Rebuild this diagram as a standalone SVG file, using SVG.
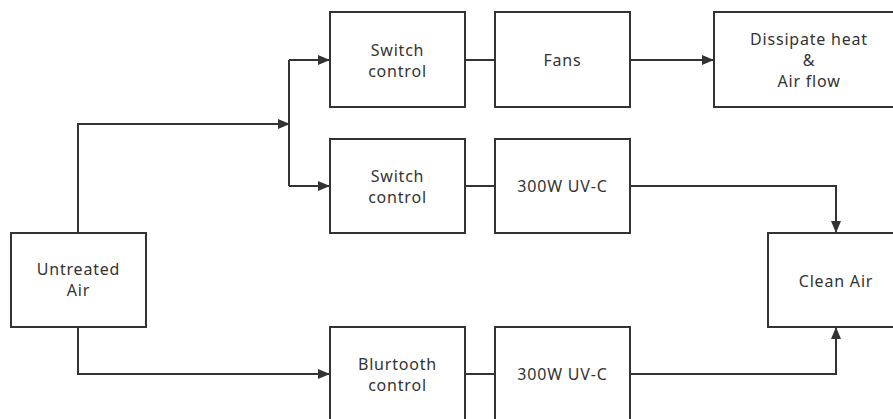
<svg xmlns="http://www.w3.org/2000/svg" width="893" height="419" viewBox="0 0 893 419">
<style>
.box{fill:#fff;stroke:#333;stroke-width:2}
.t{font-family:"Noto Sans","Open Sans",sans-serif;font-size:16px;letter-spacing:0.8px;fill:#333;text-anchor:middle;dominant-baseline:central}
.c{fill:none;stroke:#333;stroke-width:2}
</style>
<defs>
<marker id="ah" markerWidth="12" markerHeight="10" refX="11" refY="5" orient="auto" markerUnits="userSpaceOnUse">
<path d="M0,0 L12,5 L0,10 Z" fill="#333"/>
</marker>
</defs>
<rect width="893" height="419" fill="#fff"/>
<g id="connectors">
<path class="c" d="M78,233 V124 H289" marker-end="url(#ah)"/>
<path class="c" d="M289,60 V186"/>
<path class="c" d="M289,60 H329" marker-end="url(#ah)"/>
<path class="c" d="M289,186 H329" marker-end="url(#ah)"/>
<path class="c" d="M465,60 H495"/>
<path class="c" d="M630,60 H713" marker-end="url(#ah)"/>
<path class="c" d="M465,186 H495"/>
<path class="c" d="M630,186 H836 V232" marker-end="url(#ah)"/>
<path class="c" d="M78,327 V374 H329" marker-end="url(#ah)"/>
<path class="c" d="M465,374 H495"/>
<path class="c" d="M630,374 H836 V328" marker-end="url(#ah)"/>
</g>
<g id="untreated"><rect class="box" x="11" y="233" width="135" height="94"/><text class="t" x="78.5" y="269">Untreated</text><text class="t" x="78.5" y="290">Air</text></g>
<g id="switch1"><rect class="box" x="330" y="12" width="135" height="95"/><text class="t" x="397.5" y="50">Switch</text><text class="t" x="397.5" y="71">control</text></g>
<g id="fans"><rect class="box" x="495" y="12" width="135" height="95"/><text class="t" x="562.5" y="60">Fans</text></g>
<g id="dissipate"><rect class="box" x="714" y="12" width="190" height="95"/><text class="t" x="809" y="39">Dissipate heat</text><text class="t" x="809" y="60">&amp;</text><text class="t" x="809" y="81">Air flow</text></g>
<g id="switch2"><rect class="box" x="330" y="139" width="135" height="94"/><text class="t" x="397.5" y="176">Switch</text><text class="t" x="397.5" y="197">control</text></g>
<g id="uvc1"><rect class="box" x="495" y="139" width="135" height="94"/><text class="t" x="562.5" y="186">300W UV-C</text></g>
<g id="clean"><rect class="box" x="768" y="233" width="136" height="94"/><text class="t" x="836" y="281">Clean Air</text></g>
<g id="bluetooth"><rect class="box" x="330" y="327" width="135" height="94"/><text class="t" x="397.5" y="364">Blurtooth</text><text class="t" x="397.5" y="385">control</text></g>
<g id="uvc2"><rect class="box" x="495" y="327" width="135" height="94"/><text class="t" x="562.5" y="374">300W UV-C</text></g>
</svg>
